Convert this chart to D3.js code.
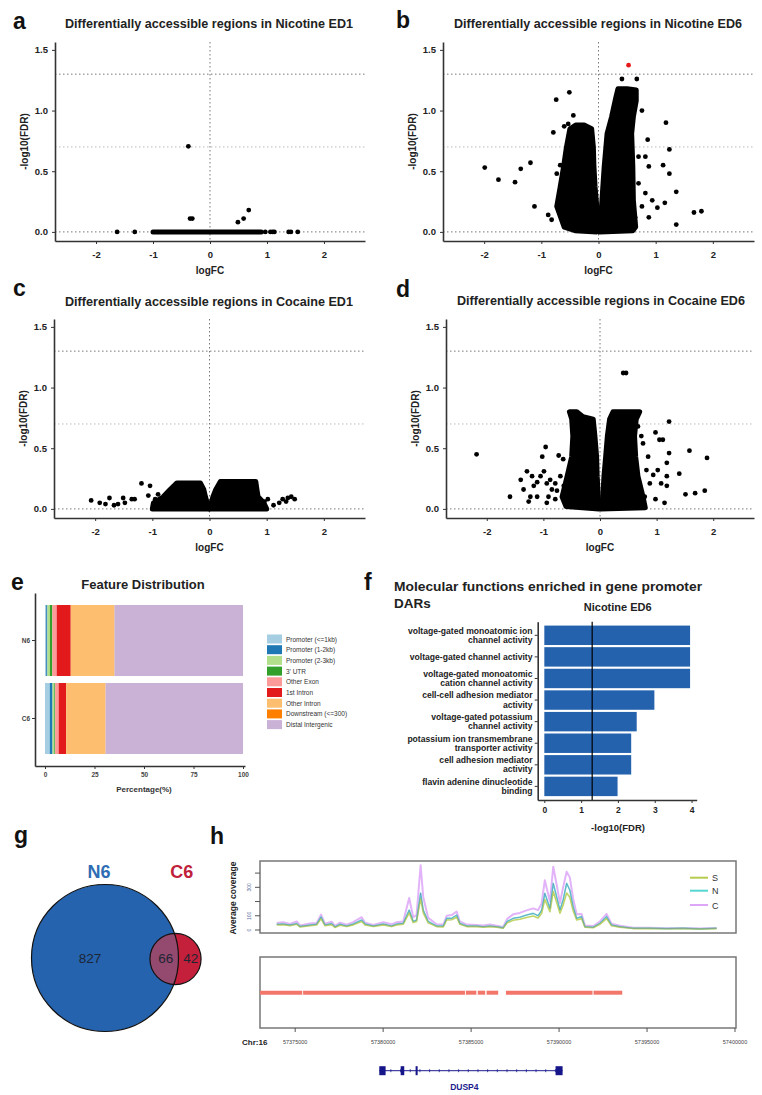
<!DOCTYPE html>
<html>
<head>
<meta charset="utf-8">
<script src="https://cdn.jsdelivr.net/npm/d3@7"></script>
<style>
body { margin: 0; background: #fff; }
svg { display: block; font-family: "Liberation Sans", Arial, sans-serif; }
</style>
</head>
<body>
<div id="chart-area"></div>
<script>
// *********************
// Data
// *********************

// volcano plots (a-d): [logFC, -log10(FDR)]
const fcTicks = [-2, -1, 0, 1, 2];
const fdrTicks = [0, 0.5, 1.0, 1.5];
const fdrCutoffs = [1.3, 0.7];

// outlines of the dense point clouds
const aClouds = [[[-1.0, 0], [0.9, 0]]];
const aPoints = [[-1.63, 0], [-1.32, 0], [0.97, 0], [1.06, 0], [1.1, 0], [1.13, 0], [1.38, 0], [1.42, 0], [1.54, 0],
  [-0.38, 0.705], [-0.35, 0.11], [-0.31, 0.11], [0.49, 0.08], [0.59, 0.11], [0.68, 0.18]];

const bClouds = [
  [[-0.03, 0.0], [-0.41, 0.01], [-0.6, 0.04], [-0.73, 0.21], [-0.67, 0.37], [-0.61, 0.54], [-0.56, 0.70], [-0.5, 0.85],
   [-0.4, 0.88], [-0.25, 0.88], [-0.12, 0.85], [-0.09, 0.70], [-0.08, 0.54], [-0.06, 0.37], [-0.03, 0.21], [0.0, 0.02]],
  [[0.02, 0.0], [0.6, 0.01], [0.65, 0.04], [0.61, 0.26], [0.6, 0.54], [0.58, 0.81], [0.61, 0.95], [0.66, 1.08], [0.66, 1.17],
   [0.5, 1.18], [0.34, 1.18], [0.3, 1.1], [0.23, 0.95], [0.15, 0.81], [0.1, 0.54], [0.06, 0.26], [0.03, 0.05]]
];
const bPoints = [[0.41, 1.26], [0.67, 1.26], [-0.51, 1.15], [-0.74, 1.09], [-0.79, 0.82], [-0.44, 0.96], [-0.53, 0.89],
  [-0.6, 0.87], [-1.99, 0.53], [-1.75, 0.43], [-1.46, 0.41], [-1.36, 0.52], [-1.19, 0.57], [-1.12, 0.21],
  [-0.88, 0.14], [-0.82, 0.1], [-0.70, 0.18], [-0.64, 0.26], [-0.67, 0.55], [-0.61, 0.33], [-0.73, 0.48], [-0.56, 0.12],
  [1.18, 0.90], [1.24, 0.68], [1.24, 0.48], [1.13, 0.55], [1.36, 0.33], [1.36, 0.06], [1.67, 0.16], [1.80, 0.17],
  [0.76, 1.0], [0.86, 0.76], [1.16, 0.24], [1.03, 0.2], [0.82, 0.62], [0.88, 0.54], [0.70, 0.4], [0.82, 0.32],
  [0.76, 0.21], [0.94, 0.26], [0.64, 0.12], [0.88, 0.12], [0.7, 0.62], [0.61, 1.08], [0.56, 1.03]];
const bHighlight = [[0.526, 1.374]];

const cClouds = [
  [[-1.0, 0.0], [-0.98, 0.05], [-0.81, 0.10], [-0.69, 0.16], [-0.57, 0.214], [-0.16, 0.214], [-0.1, 0.16],
   [-0.07, 0.10], [-0.04, 0.05], [0, 0]],
  [[0, 0], [0.06, 0.1], [0.11, 0.16], [0.19, 0.225], [0.81, 0.225], [0.83, 0.16], [0.85, 0.1], [0.95, 0.05], [1.0, 0.0]]
];
const cPoints = [[-2.07, 0.07], [-1.92, 0.05], [-1.82, 0.04], [-1.75, 0.09], [-1.67, 0.03], [-1.6, 0.04], [-1.51, 0.09],
  [-1.48, 0.05], [-1.36, 0.08], [-1.31, 0.08], [-1.19, 0.21], [-1.07, 0.11], [-1.04, 0.19], [-0.95, 0.08], [-0.9, 0.12],
  [0.64, 0.08], [0.78, 0.14], [0.87, 0.04], [0.96, 0.06], [1.02, 0.08], [1.12, 0.03], [1.22, 0.05], [1.28, 0.08],
  [1.34, 0.06], [1.37, 0.09], [1.43, 0.1], [1.49, 0.08]];

const dClouds = [
  [[-0.02, 0.0], [-0.6, 0.02], [-0.67, 0.1], [-0.58, 0.27], [-0.5, 0.43], [-0.48, 0.6], [-0.5, 0.74], [-0.54, 0.8],
   [-0.41, 0.8], [-0.3, 0.76], [-0.12, 0.74], [-0.09, 0.6], [-0.06, 0.43], [-0.05, 0.27], [-0.03, 0.1]],
  [[0.01, 0.0], [0.8, 0.01], [0.76, 0.1], [0.67, 0.27], [0.63, 0.43], [0.61, 0.6], [0.64, 0.74], [0.7, 0.8],
   [0.23, 0.8], [0.17, 0.74], [0.13, 0.6], [0.1, 0.43], [0.07, 0.27], [0.05, 0.1]]
];
const dPoints = [[-2.18, 0.45], [-1.59, 0.10], [-1.29, 0.31], [-1.2, 0.27], [-1.17, 0.19], [-1.11, 0.22], [-1.05, 0.27],
  [-0.99, 0.31], [-0.96, 0.51], [-1.02, 0.43], [-0.94, 0.21], [-0.88, 0.24], [-0.85, 0.16], [-0.79, 0.21], [-0.79, 0.08],
  [-0.73, 0.44], [-0.65, 0.41], [-0.7, 0.27], [-0.64, 0.19], [-1.23, 0.1], [-1.26, 0.06], [-1.4, 0.24], [-1.11, 0.1],
  [-0.91, 0.1], [-0.76, 0.15], [-0.94, 0.05], [-1.35, 0.16],
  [0.46, 1.12], [0.41, 1.12], [1.22, 0.72], [0.98, 0.63], [1.05, 0.57], [1.11, 0.57], [1.22, 0.46], [1.18, 0.38],
  [1.58, 0.48], [1.89, 0.42], [1.40, 0.29], [1.85, 0.15], [1.68, 0.13], [1.51, 0.12], [1.14, 0.05], [1.18, 0.27],
  [1.18, 0.19], [0.98, 0.08], [0.94, 0.28], [0.85, 0.43], [0.76, 0.54], [0.82, 0.32], [0.88, 0.21], [0.70, 0.16],
  [0.79, 0.1], [1.02, 0.32], [1.08, 0.21], [0.67, 0.68], [0.73, 0.6]];

// e: feature distribution (%)
const featureNames = ["Promoter (<=1kb)", "Promoter (1-2kb)", "Promoter (2-3kb)", "3' UTR", "Other Exon",
  "1st Intron", "Other Intron", "Downstream (<=300)", "Distal Intergenic"];
const featureSamples = ["N6", "C6"];
const featureN6 = [0.6, 0.6, 1.3, 1.2, 2.2, 7.1, 22.0, 0.1, 64.9];
const featureC6 = [2.4, 1.4, 0.9, 0.4, 1.8, 3.8, 19.8, 0.1, 69.4];
const percentTicks = [0, 25, 50, 75, 100];

// f: GO molecular functions
const goTerms = ["voltage-gated monoatomic ion\nchannel activity", "voltage-gated channel activity",
  "voltage-gated monoatomic\ncation channel activity", "cell-cell adhesion mediator\nactivity",
  "voltage-gated potassium\nchannel activity", "potassium ion transmembrane\ntransporter activity",
  "cell adhesion mediator\nactivity", "flavin adenine dinucleotide\nbinding"];
const goValues = [3.96, 3.96, 3.96, 2.99, 2.51, 2.36, 2.36, 1.99];
const goTicks = [0, 1, 2, 3, 4];
const goCutoff = 1.3;

// g: venn
const vennSets = ["N6", "C6"];
const vennCounts = [827, 66, 42]; // N6 only, both, C6 only

// h: coverage track
const covPos = [57373950, 57374320, 57374700, 57375090, 57375270, 57375840, 57376220, 57376470, 57376690, 57377070,
  57377260, 57377550, 57377930, 57378300, 57378780, 57378970, 57379440, 57380010, 57380480, 57380770,
  57381140, 57381480, 57381710, 57381900, 57382130, 57382280, 57382560, 57383040, 57383420, 57383610,
  57383890, 57384180, 57384360, 57384750, 57385310, 57385690, 57386070, 57386450, 57386820, 57387050,
  57387390, 57387770, 57388150, 57388530, 57388810, 57389010, 57389190, 57389480, 57389670, 57389860,
  57390050, 57390230, 57390430, 57390610, 57390800, 57391000, 57391280, 57391470, 57391940, 57392320,
  57392700, 57392980, 57393460, 57394210, 57395160, 57396110, 57397050, 57398000, 57398950];
const covS = [35, 38, 30, 40, 22, 30, 35, 80, 30, 38, 18, 34, 24, 36, 60, 36, 24, 36, 24, 36,
  40, 120, 52, 60, 220, 120, 50, 24, 22, 70, 72, 90, 40, 24, 24, 20, 24, 20, 12, 50,
  68, 75, 88, 98, 85, 118, 215, 128, 270, 195, 118, 175, 260, 230, 135, 70, 80, 20, 16, 40,
  80, 30, 20, 10, 10, 9, 10, 7, 10];
const covN = [40, 42, 35, 45, 25, 35, 40, 92, 35, 45, 22, 40, 28, 42, 70, 42, 28, 42, 28, 42,
  47, 140, 60, 70, 260, 140, 60, 28, 28, 82, 82, 105, 47, 28, 28, 23, 28, 23, 15, 60,
  82, 90, 105, 117, 100, 140, 258, 152, 328, 234, 141, 211, 328, 281, 164, 82, 94, 23, 19, 47,
  94, 35, 23, 12, 12, 10, 12, 8, 12];
const covC = [50, 55, 42, 60, 32, 45, 50, 108, 45, 58, 30, 52, 38, 55, 90, 52, 36, 55, 40, 55,
  60, 225, 90, 105, 455, 230, 85, 40, 38, 100, 105, 130, 60, 38, 35, 32, 38, 30, 22, 78,
  110, 120, 138, 152, 140, 187, 350, 200, 445, 320, 190, 300, 410, 370, 220, 110, 113, 32, 28, 60,
  113, 45, 30, 16, 15, 13, 14, 11, 14];
const covGroups = ["S", "N", "C"];
const covTicks = [0, 100, 200, 300, 400];
const covTickLabels = [0, 100, 300];
const genomeTicks = [57375000, 57380000, 57385000, 57390000, 57395000, 57400000];
const darSegments = [[57373000, 57375400], [57375450, 57384650], [57384700, 57385300], [57385380, 57385800],
  [57385880, 57386540], [57386980, 57391900], [57391960, 57393590]];
const geneExons = [[57379780, 57380140], [57380995, 57381200], [57381845, 57381960], [57389800, 57390200]];
const geneName = "DUSP4";
const chromName = "Chr:16";

// *********************
// Basic setup SVG
// *********************

const width = 762;
const height = 1095;

const svg = d3.select("#chart-area")
  .append("svg")
  .attr("width", width)
  .attr("height", height);

svg.append("rect")
  .attr("width", "100%")
  .attr("height", "100%")
  .attr("fill", "white");

const ink = "#222";

function panelLetter(letter, x, y) {
  svg.append("text")
    .attr("x", x).attr("y", y)
    .attr("font-size", "23px").attr("font-weight", "bold").attr("fill", "#111")
    .text(letter);
}

function styleAxis(axisG, size) {
  axisG.attr("font-family", null).attr("font-size", null);
  axisG.select(".domain").attr("stroke", "#333").attr("stroke-width", 1.6);
  axisG.selectAll(".tick line").attr("stroke", "#333");
  axisG.selectAll(".tick text")
    .attr("font-size", size).attr("font-weight", "bold").attr("fill", ink);
}

// *********************
// Volcano plots (a-d)
// *********************

function drawVolcano(p) {
  const x = d3.scaleLinear().domain([-2.72, 2.72]).range([p.left, p.right]);
  const y = d3.scaleLinear().domain([-0.075, 1.565]).range([p.bottom, p.top]);
  const g = svg.append("g");

  // reference lines
  g.append("line")
    .attr("x1", x(0)).attr("x2", x(0))
    .attr("y1", p.top).attr("y2", p.bottom)
    .attr("stroke", "#777").attr("stroke-dasharray", "1.5,2.5");
  g.selectAll(".hline").data([0].concat(fdrCutoffs)).join("line")
    .attr("x1", p.left).attr("x2", p.right)
    .attr("y1", d => y(d)).attr("y2", d => y(d))
    .attr("stroke", d => d === 0.7 ? "#bbb" : "#777")
    .attr("stroke-dasharray", "1.5,2.5");

  // dense clouds
  const outline = d3.line()
    .x(d => x(d[0])).y(d => y(d[1]))
    .curve(d3.curveLinearClosed);
  g.selectAll(".cloud").data(p.clouds).join("path")
    .attr("d", outline)
    .attr("fill", "black").attr("stroke", "black")
    .attr("stroke-width", 5).attr("stroke-linejoin", "round").attr("stroke-linecap", "round");

  // single points
  g.selectAll(".pt").data(p.points).join("circle")
    .attr("cx", d => x(d[0])).attr("cy", d => y(d[1]))
    .attr("r", 2.4).attr("fill", "black");
  g.selectAll(".hi").data(p.highlight || []).join("circle")
    .attr("cx", d => x(d[0])).attr("cy", d => y(d[1]))
    .attr("r", 2.4).attr("fill", "#e8191c");

  // axes
  const xAxisG = g.append("g")
    .attr("transform", "translate(0," + p.bottom + ")")
    .call(d3.axisBottom(x).tickValues(fcTicks).tickFormat(d => String(d))
      .tickSize(3).tickSizeOuter(0).tickPadding(7));
  styleAxis(xAxisG, "9.5px");
  const yAxisG = g.append("g")
    .attr("transform", "translate(" + p.left + ",0)")
    .call(d3.axisLeft(y).tickValues(fdrTicks).tickFormat(d3.format(".1f"))
      .tickSize(3).tickSizeOuter(0).tickPadding(4));
  styleAxis(yAxisG, "9.5px");

  // labels
  g.append("text")
    .attr("x", (p.left + p.right) / 2).attr("y", p.bottom + 33)
    .attr("text-anchor", "middle").attr("font-size", "10px").attr("font-weight", "bold").attr("fill", ink)
    .text("logFC");
  g.append("text")
    .attr("transform", "translate(" + (p.left - 27) + "," + ((p.top + p.bottom) / 2) + ") rotate(-90)")
    .attr("text-anchor", "middle").attr("font-size", "10px").attr("font-weight", "bold").attr("fill", ink)
    .text("-log10(FDR)");
  g.append("text")
    .attr("x", p.titleX).attr("y", p.titleY)
    .attr("text-anchor", "middle").attr("font-size", "12px").attr("font-weight", "bold").attr("fill", ink)
    .attr("textLength", 288).attr("lengthAdjust", "spacingAndGlyphs")
    .text(p.title);
}

drawVolcano({left: 55, right: 365, top: 42, bottom: 241, titleX: 209, titleY: 28,
  title: "Differentially accessible regions in Nicotine ED1", clouds: aClouds, points: aPoints});
drawVolcano({left: 443, right: 754, top: 42, bottom: 241, titleX: 598, titleY: 28,
  title: "Differentially accessible regions in Nicotine ED6", clouds: bClouds, points: bPoints, highlight: bHighlight});
drawVolcano({left: 54, right: 365, top: 319, bottom: 518, titleX: 209, titleY: 306,
  title: "Differentially accessible regions in Cocaine ED1", clouds: cClouds, points: cPoints});
drawVolcano({left: 446, right: 754, top: 319, bottom: 518, titleX: 601, titleY: 305,
  title: "Differentially accessible regions in Cocaine ED6", clouds: dClouds, points: dPoints});

panelLetter("a", 13, 29);
panelLetter("b", 396, 28);
panelLetter("c", 13, 296);
panelLetter("d", 396, 297);

// *********************
// e: Feature distribution
// *********************

const featureColor = d3.scaleOrdinal()
  .domain(featureNames)
  .range(["#A6CEE3", "#1F78B4", "#B2DF8A", "#33A02C", "#FB9A99", "#E31A1C", "#FDBF6F", "#FF7F00", "#CAB2D6"]);

const featureTable = featureSamples.map((s, i) => {
  const row = {sample: s};
  const vals = i === 0 ? featureN6 : featureC6;
  featureNames.forEach((f, j) => { row[f] = vals[j]; });
  return row;
});
const featureStack = d3.stack().keys(featureNames)(featureTable);

const ex = d3.scaleLinear().domain([-5.05, 101]).range([35, 245]);
const ey = d3.scaleBand().domain(featureSamples).range([593, 766])
  .paddingInner(0.09).paddingOuter(0.154);

const eg = svg.append("g");
eg.selectAll(".layer").data(featureStack).join("g")
  .attr("fill", d => featureColor(d.key))
  .selectAll("rect").data(d => d).join("rect")
  .attr("x", d => ex(d[0]))
  .attr("width", d => ex(d[1]) - ex(d[0]))
  .attr("y", d => ey(d.data.sample))
  .attr("height", ey.bandwidth());

const exAxis = eg.append("g").attr("transform", "translate(0,766)")
  .call(d3.axisBottom(ex).tickValues(percentTicks).tickSize(3).tickSizeOuter(0).tickPadding(3));
styleAxis(exAxis, "6.5px");
exAxis.selectAll(".tick text").attr("fill", "#444");
const eyAxis = eg.append("g").attr("transform", "translate(35,0)")
  .call(d3.axisLeft(ey).tickSize(3).tickSizeOuter(0).tickPadding(2));
styleAxis(eyAxis, "6.5px");
eyAxis.selectAll(".tick text").attr("fill", "#444");

eg.append("text")
  .attr("x", 144).attr("y", 792)
  .attr("text-anchor", "middle").attr("font-size", "8px").attr("font-weight", "bold").attr("fill", "#333")
  .text("Percentage(%)");
eg.append("text")
  .attr("x", 143).attr("y", 589)
  .attr("text-anchor", "middle").attr("font-size", "13px").attr("font-weight", "bold").attr("fill", ink)
  .text("Feature Distribution");

// legend
const eLegend = eg.selectAll(".leg").data(featureNames).join("g")
  .attr("transform", (d, i) => "translate(267," + (634.5 + i * 10.7) + ")");
eLegend.append("rect")
  .attr("width", 15).attr("height", 9)
  .attr("fill", d => featureColor(d));
eLegend.append("text")
  .attr("x", 19).attr("y", 7)
  .attr("font-size", "6.5px").attr("fill", "#333")
  .text(d => d);

panelLetter("e", 11, 590);

// *********************
// f: GO bar chart
// *********************

const fx = d3.scaleLinear().domain([-0.18, 4.14]).range([537.7, 696.7]);
const fy = d3.scaleBand().domain(goTerms).range([621.7, 800])
  .paddingInner(0.1).paddingOuter(0.18);

const fg = svg.append("g");
fg.selectAll(".bar").data(goValues).join("rect")
  .attr("x", fx(0))
  .attr("y", (d, i) => fy(goTerms[i]))
  .attr("width", d => fx(d) - fx(0))
  .attr("height", fy.bandwidth())
  .attr("fill", "#2462AE");

fg.append("line")
  .attr("x1", fx(goCutoff)).attr("x2", fx(goCutoff))
  .attr("y1", 621.7).attr("y2", 800)
  .attr("stroke", "black").attr("stroke-width", 1.2);

const fxAxis = fg.append("g").attr("transform", "translate(0,800)")
  .call(d3.axisBottom(fx).tickValues(goTicks).tickFormat(d3.format("d"))
    .tickSize(3).tickSizeOuter(0).tickPadding(4));
styleAxis(fxAxis, "8.5px");
const fyAxis = fg.append("g").attr("transform", "translate(537.7,0)")
  .call(d3.axisLeft(fy).tickSize(3).tickSizeOuter(0).tickFormat(""));
styleAxis(fyAxis, "8.5px");

// two-line term labels
fg.selectAll(".term").data(goTerms).join("text")
  .attr("text-anchor", "end")
  .attr("font-size", "8.6px").attr("font-weight", "bold").attr("fill", ink)
  .each(function(d) {
    const lines = d.split("\n");
    const cy = fy(d) + fy.bandwidth() / 2;
    d3.select(this).selectAll("tspan").data(lines).join("tspan")
      .attr("x", 532.5)
      .attr("y", (l, i) => cy + 3 + (i - (lines.length - 1) / 2) * 9.3)
      .text(l => l);
  });

fg.append("text")
  .attr("x", 618).attr("y", 831)
  .attr("text-anchor", "middle").attr("font-size", "9.5px").attr("font-weight", "bold").attr("fill", ink)
  .text("-log10(FDR)");
fg.append("text")
  .attr("x", 617.7).attr("y", 610.5)
  .attr("text-anchor", "middle").attr("font-size", "11px").attr("font-weight", "bold").attr("fill", ink)
  .text("Nicotine ED6");
fg.append("text")
  .attr("x", 394).attr("y", 590.5)
  .attr("font-size", "13.5px").attr("font-weight", "bold").attr("fill", ink)
  .attr("textLength", 308).attr("lengthAdjust", "spacingAndGlyphs")
  .text("Molecular functions enriched in gene promoter");
fg.append("text")
  .attr("x", 394).attr("y", 607.5)
  .attr("font-size", "13.5px").attr("font-weight", "bold").attr("fill", ink)
  .text("DARs");

panelLetter("f", 364, 590);

// *********************
// g: Venn diagram
// *********************

const vr = d3.scaleSqrt().domain([0, vennCounts[0] + vennCounts[1]]).range([0, 73.5]);
const bigR = vr(vennCounts[0] + vennCounts[1]);
const smallR = vr(vennCounts[1] + vennCounts[2]);
const bigC = [105, 958];
const smallC = [175.5, 959];

const vg = svg.append("g");
vg.append("clipPath").attr("id", "bigclip")
  .append("circle").attr("cx", bigC[0]).attr("cy", bigC[1]).attr("r", bigR);
vg.append("circle").attr("cx", bigC[0]).attr("cy", bigC[1]).attr("r", bigR).attr("fill", "#2563AE");
vg.append("circle").attr("cx", smallC[0]).attr("cy", smallC[1]).attr("r", smallR).attr("fill", "#C41F3B");
vg.append("circle").attr("cx", smallC[0]).attr("cy", smallC[1]).attr("r", smallR)
  .attr("fill", "#94496F").attr("clip-path", "url(#bigclip)");
vg.append("circle").attr("cx", bigC[0]).attr("cy", bigC[1]).attr("r", bigR)
  .attr("fill", "none").attr("stroke", "#111").attr("stroke-width", 1.2);
vg.append("circle").attr("cx", smallC[0]).attr("cy", smallC[1]).attr("r", smallR)
  .attr("fill", "none").attr("stroke", "#111").attr("stroke-width", 1.2);

vg.selectAll(".vnum").data(vennCounts).join("text")
  .attr("x", (d, i) => [90, 165.7, 190.7][i])
  .attr("y", 963)
  .attr("text-anchor", "middle").attr("font-size", "13.5px").attr("fill", "#1d2533")
  .text(d => d);
vg.selectAll(".vset").data(vennSets).join("text")
  .attr("x", (d, i) => [99, 181.7][i]).attr("y", 878)
  .attr("text-anchor", "middle").attr("font-size", "18px").attr("font-weight", "bold")
  .attr("fill", (d, i) => ["#2E6DB4", "#C0203A"][i])
  .text(d => d);

panelLetter("g", 14, 843);

// *********************
// h: Coverage track
// *********************

const hx = d3.scaleLinear().domain([57373000, 57400000]).range([260, 735]);
const hy = d3.scaleLinear().domain([0, 400]).range([930, 873.1]);
const covColor = d3.scaleOrdinal().domain(covGroups).range(["#B5CC4E", "#55D6D2", "#DDA6F7"]);
const covSeries = {S: covS, N: covN, C: covC};

const hg = svg.append("g");
hg.append("rect")
  .attr("x", 260).attr("y", 861).attr("width", 476).attr("height", 72)
  .attr("fill", "none").attr("stroke", "#777").attr("stroke-width", 1.5);

const covLine = d3.line()
  .x((d, i) => hx(covPos[i]))
  .y(d => hy(d));
["C", "N", "S"].forEach(k => {
  hg.append("path")
    .attr("d", covLine(covSeries[k]))
    .attr("fill", "none").attr("stroke", covColor(k))
    .attr("stroke-width", k === "C" ? 2 : 1.6)
    .attr("stroke-opacity", 0.85)
    .attr("stroke-linejoin", "round");
});
// darker overlap line
hg.append("path")
  .attr("d", covLine(covN))
  .attr("fill", "none").attr("stroke", "#5C86B8").attr("stroke-width", 0.8).attr("stroke-opacity", 0.7);

// coverage ticks (left)
hg.selectAll(".ctick").data(covTicks).join("line")
  .attr("x1", 255).attr("x2", 260)
  .attr("y1", d => hy(d)).attr("y2", d => hy(d))
  .attr("stroke", "#555");
hg.selectAll(".clab").data(covTickLabels).join("text")
  .attr("transform", d => "translate(251," + hy(d) + ") rotate(-90)")
  .attr("text-anchor", "middle").attr("font-size", "5px").attr("fill", "#5a6e9e")
  .text(d => d);
hg.append("text")
  .attr("transform", "translate(236,898) rotate(-90)")
  .attr("text-anchor", "middle").attr("font-size", "8.5px").attr("font-weight", "bold").attr("fill", ink)
  .text("Average coverage");

// legend
const hLeg = hg.selectAll(".hleg").data(covGroups).join("g")
  .attr("transform", (d, i) => "translate(690," + [877.7, 890.7, 905][i] + ")");
hLeg.append("line").attr("x1", 0).attr("x2", 18)
  .attr("stroke", d => covColor(d)).attr("stroke-width", 2);
hLeg.append("text").attr("x", 22).attr("y", 3.5)
  .attr("font-size", "9px").attr("fill", "#333")
  .text(d => d);

// lower box with segments
hg.append("rect")
  .attr("x", 260).attr("y", 957).attr("width", 476).attr("height", 71)
  .attr("fill", "none").attr("stroke", "#777").attr("stroke-width", 1.5);
hg.selectAll(".seg").data(darSegments).join("line")
  .attr("x1", d => hx(d[0])).attr("x2", d => hx(d[1]))
  .attr("y1", 992.7).attr("y2", 992.7)
  .attr("stroke", "#F3766A").attr("stroke-width", 4);

// genomic axis
hg.selectAll(".gtick").data(genomeTicks).join("line")
  .attr("x1", d => hx(d)).attr("x2", d => hx(d))
  .attr("y1", 1028).attr("y2", 1032)
  .attr("stroke", "#555");
hg.selectAll(".glab").data(genomeTicks).join("text")
  .attr("x", d => hx(d)).attr("y", 1043.5)
  .attr("text-anchor", "middle").attr("font-size", "5.5px").attr("fill", "#444")
  .text(d => d);
hg.append("text")
  .attr("x", 242).attr("y", 1045)
  .attr("font-size", "8px").attr("font-weight", "bold").attr("fill", ink)
  .text(chromName);

// gene model
const geneY = 1070.7;
const geneStart = geneExons[0][0];
const geneEnd = geneExons[geneExons.length - 1][1];
hg.append("line")
  .attr("x1", hx(geneStart)).attr("x2", hx(geneEnd))
  .attr("y1", geneY).attr("y2", geneY)
  .attr("stroke", "#1C1C8E").attr("stroke-width", 1);
hg.selectAll(".itick").data(d3.range(geneExons[0][1] + 300, geneExons[3][0], 550)).join("line")
  .attr("x1", d => hx(d)).attr("x2", d => hx(d))
  .attr("y1", geneY - 1.5).attr("y2", geneY + 1.5)
  .attr("stroke", "#1C1C8E").attr("stroke-width", 0.8);
hg.selectAll(".exon").data(geneExons).join("rect")
  .attr("x", d => hx(d[0]))
  .attr("width", d => Math.max(2, hx(d[1]) - hx(d[0])))
  .attr("y", geneY - 4.5).attr("height", 9)
  .attr("fill", "#16168A");
hg.append("text")
  .attr("x", 464.3).attr("y", 1089.5)
  .attr("text-anchor", "middle").attr("font-size", "8.5px").attr("font-weight", "bold").attr("fill", "#1C1C8E")
  .text(geneName);

panelLetter("h", 210, 844);
</script>
</body>
</html>
